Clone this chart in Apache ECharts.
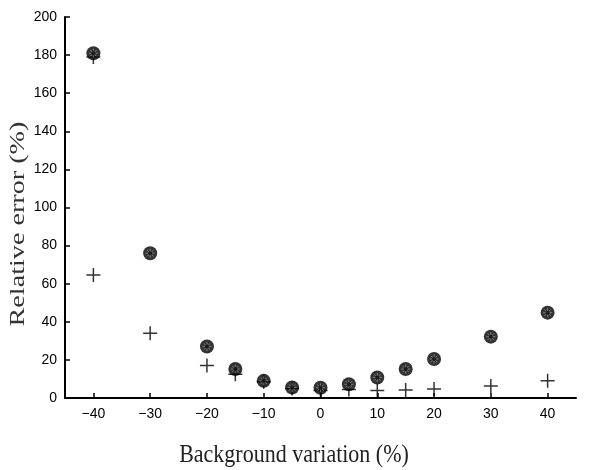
<!DOCTYPE html>
<html><head><meta charset="utf-8">
<script src="https://cdn.jsdelivr.net/npm/echarts@6/dist/echarts.min.js"></script>
<style>html,body{margin:0;padding:0;background:#fff}#c{width:600px;height:470px}</style>
</head><body><div id="c"></div>
<script>
const xValues = [-40, -30, -20, -15, -10, -5, 0, 5, 10, 15, 20, 30, 40];
const circleSeries = [181, 76, 27, 15.2, 9, 5.5, 5.4, 7.2, 10.8, 15.2, 20.5, 32.2, 44.8];
const plusSeries = [179, 64.6, 34, 17, 12.5, 8.5, 5, 4, 4.5, 3.9, 4.2, 4.7, 6.3, 9.1];
const plusX = [-40, -40, -30, -20, -15, -10, -5, 0, 5, 10, 15, 20, 30, 40];
const xTicks = [-40, -30, -20, -10, 0, 10, 20, 30, 40];
const xTitle = 'Background variation (%)';
const yTitle = 'Relative error (%)';

const circles = xValues.map((x, i) => [x, circleSeries[i]]);
const pluses = plusX.map((x, i) => [x, plusSeries[i]]);

const chart = echarts.init(document.getElementById('c'), null, {renderer: 'canvas'});
chart.setOption({
  animation: false,
  grid: {left: 65, right: 24, top: 17, bottom: 72, outerBoundsMode: 'none', containLabel: false},
  graphic: [
    {type: 'text', x: 294, y: 455, scaleY: 1.15,
     style: {text: xTitle, font: '22px "Liberation Serif"', fill: '#222', align: 'center', verticalAlign: 'middle'}},
    {type: 'text', x: 18, y: 224, rotation: Math.PI / 2, scaleX: 1.28,
     style: {text: yTitle, font: '22px "Liberation Serif"', fill: '#333', align: 'center', verticalAlign: 'middle'}}
  ],
  xAxis: {
    type: 'value', min: -45, max: 45,
    axisLine: {onZero: false, lineStyle: {color: '#000', width: 2}},
    axisTick: {inside: true, length: 5, lineStyle: {color: '#000', width: 1.5}, customValues: xTicks},
    axisLabel: {customValues: xTicks, margin: 9, fontFamily: 'Liberation Sans', fontSize: 14, color: '#000',
      formatter: v => (v < 0 ? '\u2212' + Math.abs(v) : String(v))},
    splitLine: {show: false}
  },
  yAxis: {
    type: 'value', min: 0, max: 200, interval: 20,
    axisLine: {show: true, onZero: false, lineStyle: {color: '#000', width: 2}},
    axisTick: {show: true, inside: true, length: 5, lineStyle: {color: '#000', width: 1.5}},
    axisLabel: {margin: 8, fontFamily: 'Liberation Sans', fontSize: 14, color: '#000'},
    splitLine: {show: false}
  },
  series: [
    {type: 'scatter', data: pluses, symbol: 'path://M-0.75,-7h1.5v14h-1.5z M-7,-0.75h14v1.5h-14z', symbolSize: 14,
     itemStyle: {color: '#000'}, z: 2},
    {type: 'scatter', data: circles, symbol: 'circle', symbolSize: 14, itemStyle: {color: '#000'}, z: 3},
    {type: 'scatter', data: circles, symbol: 'path://M0,-5L0,5M-5,0L5,0M-3.5,-3.5L3.5,3.5M-3.5,3.5L3.5,-3.5', symbolSize: 9,
     itemStyle: {color: 'none', borderColor: '#bbb', borderWidth: 0.7}, z: 4, silent: true},
    {type: 'scatter', data: circles, symbol: 'circle', symbolSize: 4, itemStyle: {color: '#000'}, z: 5, silent: true}
  ]
});
</script></body></html>
